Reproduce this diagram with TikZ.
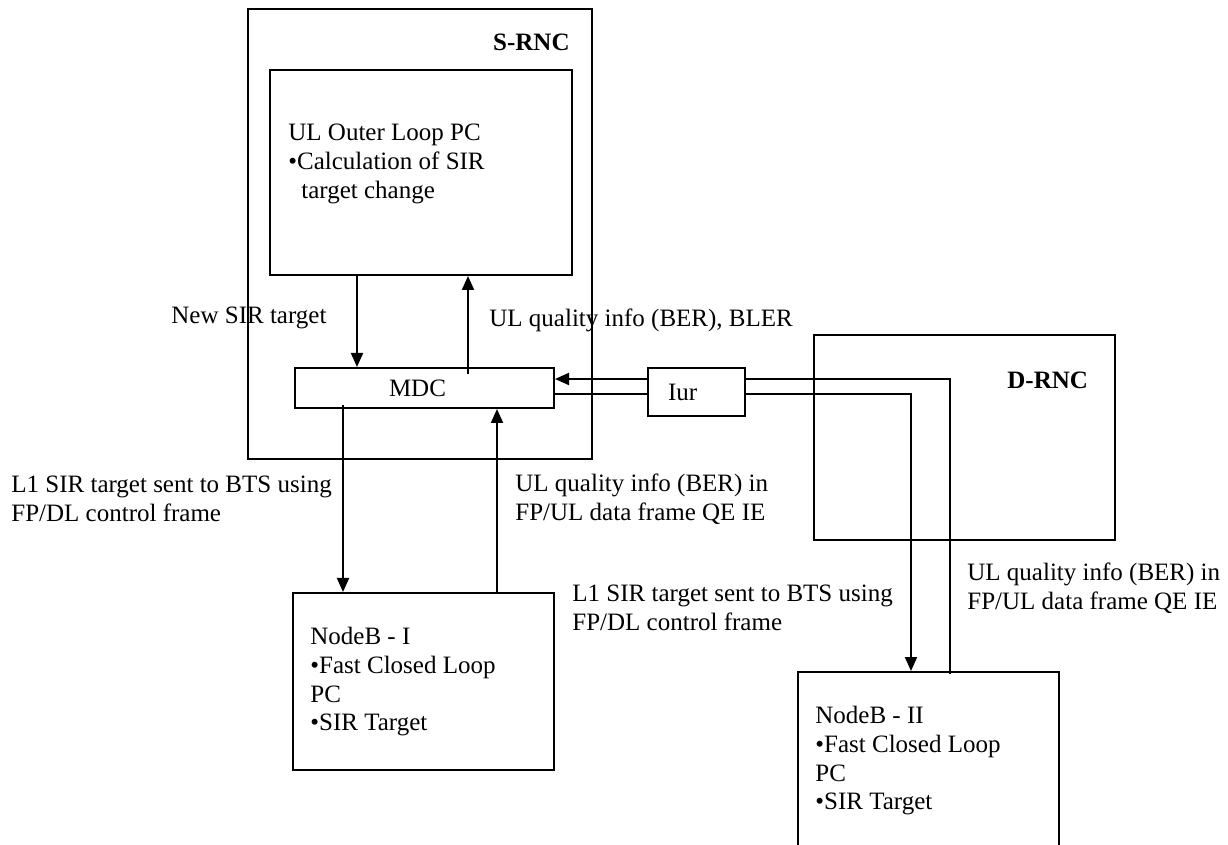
\documentclass[tikz,border=0pt]{standalone}
\usepackage{fontspec}
\setmainfont{Liberation Serif}
\usetikzlibrary{arrows.meta,calc}
\begin{document}
\begin{tikzpicture}[x=0.5pt,y=-0.5pt,
  box/.style={draw, line width=1pt, anchor=north west, inner sep=0pt},
  txt/.style={font=\fontsize{12.5}{14.4}\selectfont, align=left, inner sep=0pt, anchor=north west},
  ttl/.style={font=\fontsize{12.5}{14.4}\selectfont\bfseries, inner sep=0pt},
  conn/.style={line width=1pt},
  arr/.style={conn, -{Triangle[length=7pt,width=6pt]}}]
\useasboundingbox (0,0) rectangle (1228,845);
\clip (0,0) rectangle (1228,845);
\fill[white] (0,0) rectangle (1228,845);

% boxes
\node[box, minimum width=172pt, minimum height=225pt] (srnc) at (247,8) {};
\node[ttl, anchor=base east] (srncl) at (570,51) {S-RNC};
\node[box, minimum width=151pt, minimum height=102.5pt] (ulbox) at (269,69) {};
\node[txt] (ult) at (288,120) {\strut UL Outer Loop PC\\\strut •Calculation of SIR\\\strut\hspace{6.5pt}target change};
\node[box, font=\fontsize{12.5}{14.4}\selectfont, minimum width=129.5pt, minimum height=20pt,
      inner xsep=47pt, text width=35.5pt, align=left] (mdc) at (294,367) {MDC};
\node[box, font=\fontsize{12.5}{14.4}\selectfont, minimum width=48.5pt, minimum height=24pt,
      inner xsep=10pt, text width=28.5pt, align=left] (iur) at (647,367) {Iur};
\node[box, minimum width=150.5pt, minimum height=102.5pt] (drnc) at (813,334) {};
\node[ttl, anchor=base west] (drncl) at (1007,389) {D-RNC};
\node[box, minimum width=130.5pt, minimum height=88.5pt] (nb1) at (292,592) {};
\node[txt] (nb1t) at (310,624) {\strut NodeB - I\\\strut •Fast Closed Loop\\\strut PC\\\strut •SIR Target};
\node[box, minimum width=130.5pt, minimum height=99.5pt] (nb2) at (797,671) {};
\node[txt] (nb2t) at (815,703) {\strut NodeB - II\\\strut •Fast Closed Loop\\\strut PC\\\strut •SIR Target};

% labels
\node[txt, anchor=base west] (lnew) at (171,324) {New SIR target};
\node[txt, anchor=base west] (lulq) at (489,327) {UL quality info (BER), BLER};
\node[txt] (ll1a) at (11,472) {\strut L1 SIR target sent to BTS using\\\strut FP/DL control frame};
\node[txt] (lulqa) at (515,471) {\strut UL quality info (BER) in\\\strut FP/UL data frame QE IE};
\node[txt] (ll1b) at (572,581) {\strut L1 SIR target sent to BTS using\\\strut FP/DL control frame};
\node[txt] (lulqb) at (967,560) {\strut UL quality info (BER) in\\\strut FP/UL data frame QE IE};

% connector columns and rows
\coordinate (xa) at (357,0);
\coordinate (xb) at (468,0);
\coordinate (xc) at (343,0);
\coordinate (xd) at (497,0);
\coordinate (xe) at (911,0);
\coordinate (xf) at (950,0);
\coordinate (ya) at (0,379);
\coordinate (yb) at (0,394);

% connectors
\draw[arr] (xa |- ulbox.south) -- (xa |- mdc.north);
\draw[arr] ([yshift=-3.5pt]xb |- mdc.north) -- (xb |- ulbox.south);
\draw[arr] ([yshift=2pt]xc |- mdc.south) -- (xc |- nb1.north);
\draw[arr] (xd |- nb1.north) -- (xd |- mdc.south);
\draw[arr] (iur.west |- ya) -- (mdc.east |- ya);
\draw[conn] (mdc.east |- yb) -- (iur.west |- yb);
\draw[conn] (iur.east |- ya) -- (xf |- ya) -- ([yshift=-1.5pt]xf |- nb2.north);
\draw[arr] (iur.east |- yb) -- (xe |- yb) -- (xe |- nb2.north);
\end{tikzpicture}
\end{document}
